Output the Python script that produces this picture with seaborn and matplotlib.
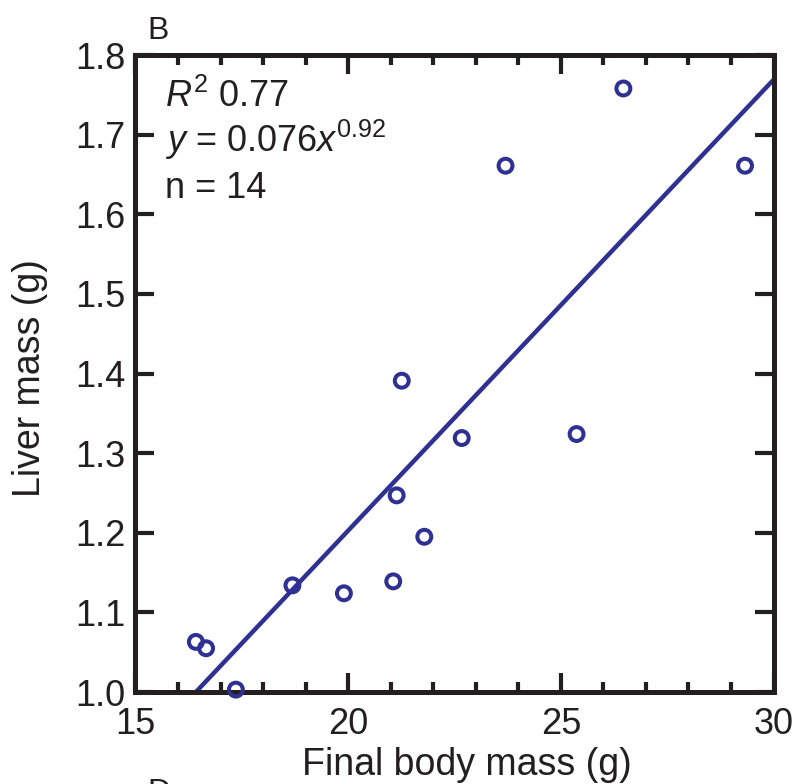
import numpy as np
import pandas as pd
import seaborn as sns
import matplotlib
matplotlib.use("Agg")
import matplotlib.pyplot as plt
from matplotlib.ticker import MultipleLocator

# final body mass (g) vs liver mass (g)
body_mass = [16.42, 16.66, 17.36, 18.69, 19.90, 21.06, 21.14, 21.26,
             21.79, 22.67, 23.70, 25.37, 26.47, 29.33]
liver_mass = [1.063, 1.055, 1.003, 1.134, 1.124, 1.139, 1.247, 1.391,
              1.195, 1.319, 1.661, 1.324, 1.758, 1.661]

# fitted line, as drawn
fit_x = [16.42, 30.0]
fit_y = [1.0, 1.769]

x_ticks = [15, 20, 25, 30]
y_ticks = [1.0, 1.1, 1.2, 1.3, 1.4, 1.5, 1.6, 1.7, 1.8]

blue = "#2e3192"
ink = "#231f20"

sns.set_theme(style="ticks")
plt.rcParams["font.family"] = ["Liberation Sans", "DejaVu Sans"]
plt.rcParams["mathtext.fontset"] = "custom"
plt.rcParams["mathtext.rm"] = "Liberation Sans"
plt.rcParams["mathtext.it"] = "Liberation Sans:italic"

df = pd.DataFrame({"body": body_mass, "liver": liver_mass})

fig = plt.figure(figsize=(7.95, 7.84), dpi=100)
ax = fig.add_axes([0.1704, 0.1173, 0.8026, 0.8125])

sns.lineplot(x=fit_x, y=fit_y, color=blue, linewidth=3.2, ax=ax, zorder=2)
sns.scatterplot(data=df, x="body", y="liver", s=100, facecolor="none",
                edgecolor=blue, linewidth=2.9, ax=ax, zorder=5, clip_on=False)

ax.set_xlim(15, 30)
ax.set_ylim(1.0, 1.8)
ax.set_xticks(x_ticks)
ax.set_yticks(y_ticks)
ax.set_yticklabels([f"{v:.1f}" for v in y_ticks])
ax.xaxis.set_minor_locator(MultipleLocator(1))

ax.tick_params(which="both", direction="in", top=True, right=True,
               width=3, color=ink, labelcolor=ink, labelsize=26)
ax.tick_params(which="major", length=14)
ax.tick_params(which="minor", length=7)
ax.tick_params(axis="x", pad=11)
ax.tick_params(axis="y", pad=7)
for sp in ax.spines.values():
    sp.set_linewidth(3.6)
    sp.set_color(ink)

ax.set_xlabel("Final body mass (g)", fontsize=27, color=ink)
ax.set_ylabel("Liver mass (g)", fontsize=27, color=ink)
ax.xaxis.set_label_coords(0.52, -0.086)
ax.yaxis.set_label_coords(-0.137, 0.493)

ax.text(0.046, 0.918, r"$\mathit{R}^{\mathrm{2}}$ 0.77", transform=ax.transAxes,
        fontsize=26, color=ink, va="baseline")
ax.text(0.046, 0.848, r"$\mathit{y}$ = 0.076$\mathit{x}^{\mathrm{0.92}}$",
        transform=ax.transAxes, fontsize=26, color=ink, va="baseline")
ax.text(0.046, 0.776, "n = 14", transform=ax.transAxes,
        fontsize=26, color=ink, va="baseline")

fig.text(0.186, 0.98, "B", fontsize=23, color=ink, va="top")
fig.text(0.186, 0.008, "D", fontsize=23, color=ink, va="top")

fig.savefig("out.png", dpi=100)
